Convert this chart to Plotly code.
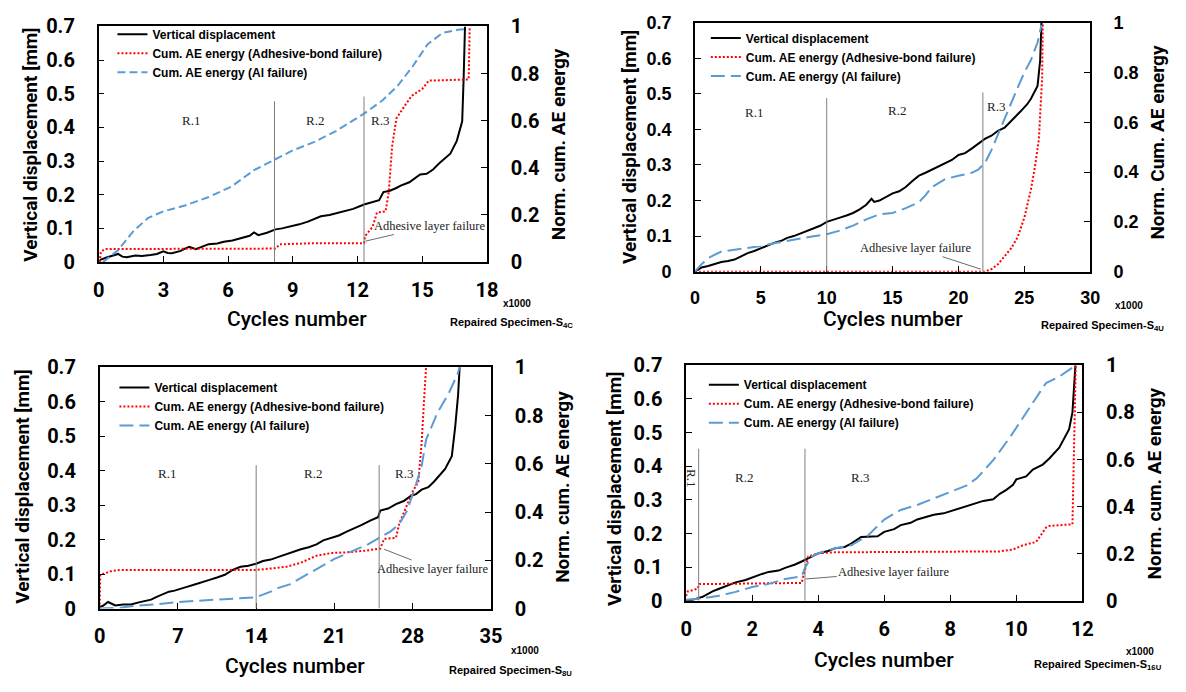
import plotly.graph_objects as go

W, H = 1186, 692

# ---------------- data (cycles in thousands) ----------------
# Specimen S4C
s4c_disp_x = [0, 0.1, 0.4, 0.9, 1.1, 1.3, 1.7, 2.0, 2.4, 2.7, 3.0, 3.2, 3.4, 3.8, 4.0, 4.2, 4.5, 4.8, 5.1, 5.5,
              5.8, 6.2, 6.6, 7.0, 7.2, 7.4, 7.8, 8.2, 8.5, 8.9, 9.3, 9.7, 10.0, 10.3, 10.7, 11.0, 11.4, 11.8,
              12.3, 12.7, 13.0, 13.2, 13.5, 13.8, 14.0, 14.4, 14.9, 15.2, 15.5, 15.8, 16.3, 16.6, 16.85,
              16.92, 16.98]
s4c_disp_y = [0.0, 0.007, 0.014, 0.024, 0.016, 0.014, 0.019, 0.018, 0.021, 0.024, 0.032, 0.027, 0.026, 0.033,
              0.04, 0.045, 0.038, 0.046, 0.053, 0.055, 0.06, 0.064, 0.07, 0.078, 0.088, 0.08, 0.087, 0.097,
              0.1, 0.105, 0.112, 0.12, 0.128, 0.136, 0.14, 0.145, 0.15, 0.158, 0.171, 0.178, 0.184, 0.208,
              0.212, 0.22, 0.227, 0.237, 0.26, 0.262, 0.275, 0.294, 0.322, 0.36, 0.418, 0.552, 0.70]
s4c_adh_x = [0.05, 0.1, 0.3, 8.2, 8.4, 10.0, 12.3, 12.35, 12.7, 12.9, 13.3, 13.45, 13.6, 13.8, 14.2, 14.5,
             15.0, 15.3, 17.15, 17.2]
s4c_adh_y = [0.0, 0.044, 0.055, 0.057, 0.075, 0.08, 0.08, 0.11, 0.15, 0.21, 0.215, 0.3, 0.49, 0.61, 0.665,
             0.705, 0.735, 0.77, 0.775, 1.0]
s4c_al_x = [0.2, 0.5, 0.9, 1.6, 2.3, 3.0, 4.0, 5.1, 6.15, 7.2, 8.2, 9.0, 10.0, 11.0, 12.3, 13.15, 13.85,
            14.55, 15.25, 15.95, 16.65, 17.1]
s4c_al_y = [0.0, 0.023, 0.05, 0.13, 0.188, 0.215, 0.24, 0.276, 0.32, 0.39, 0.436, 0.474, 0.51, 0.556, 0.63,
            0.686, 0.747, 0.83, 0.925, 0.973, 0.986, 0.99]
s4c_bounds = [8.15, 12.3]
s4c_bound_tops = [0.478, 0.492]
s4c_regions = ["R.1", "R.2", "R.3"]
s4c_region_x = [4.28, 10.03, 13.05]
s4c_region_y = [0.42, 0.42, 0.42]
s4c_fail_text = (15.38, 0.107)
s4c_fail_point = (12.36, 0.062)

# Specimen S4U
s4u_disp_x = [0, 0.3, 0.5, 1, 1.5, 2, 2.5, 3, 3.5, 4, 4.5, 5, 5.5, 6, 6.5, 7, 7.5, 8, 8.5, 9, 9.5, 10, 10.5,
              11, 11.5, 12, 12.5, 13, 13.4, 13.6, 14, 14.5, 15, 15.5, 16, 16.5, 17, 17.5, 18, 18.5, 19, 19.5,
              20, 20.5, 21, 21.5, 22, 22.5, 23, 23.5, 24, 24.7, 25.2, 25.5, 26.0, 26.2, 26.3]
s4u_disp_y = [0, 0.008, 0.012, 0.016, 0.022, 0.027, 0.03, 0.034, 0.043, 0.052, 0.058, 0.066, 0.072, 0.081,
              0.086, 0.095, 0.1, 0.107, 0.115, 0.123, 0.129, 0.14, 0.145, 0.152, 0.158, 0.165, 0.175, 0.188,
              0.205, 0.196, 0.2, 0.21, 0.22, 0.226, 0.238, 0.255, 0.27, 0.278, 0.287, 0.295, 0.305, 0.314,
              0.328, 0.333, 0.346, 0.36, 0.373, 0.382, 0.396, 0.405, 0.423, 0.45, 0.47, 0.486, 0.522, 0.594,
              0.70]
s4u_adh_x = [0, 22.0, 22.5, 23, 23.5, 24, 24.5, 25, 25.5, 25.8, 26.1, 26.35, 26.4]
s4u_adh_y = [0, 0, 0.01, 0.03, 0.062, 0.094, 0.14, 0.217, 0.33, 0.42, 0.53, 0.78, 1.0]
s4u_al_x = [0, 0.5, 1, 2, 3, 4, 5, 6, 7, 8, 9, 10, 11, 12, 13, 14, 15, 16, 17, 17.5, 18, 19, 20, 21, 21.5,
            22, 22.5, 23, 23.5, 24, 24.5, 25, 25.5, 26, 26.3]
s4u_al_y = [0, 0.03, 0.055, 0.081, 0.088, 0.094, 0.103, 0.114, 0.125, 0.133, 0.142, 0.15, 0.165, 0.185,
            0.21, 0.23, 0.236, 0.255, 0.279, 0.307, 0.34, 0.372, 0.385, 0.397, 0.41, 0.436, 0.488, 0.552,
            0.617, 0.68, 0.74, 0.8, 0.85, 0.92, 0.99]
s4u_bounds = [10.0, 21.85]
s4u_bound_tops = [0.488, 0.504]
s4u_regions = ["R.1", "R.2", "R.3"]
s4u_region_x = [4.5, 15.3, 22.85]
s4u_region_y = [0.447, 0.452, 0.463]
s4u_fail_text = (16.8, 0.066)
s4u_fail_point = (21.7, 0.007)

# Specimen S8U
s8u_disp_x = [0, 0.3, 0.75, 1.4, 2.1, 2.8, 3.5, 4.1, 4.6, 5.1, 5.6, 6.2, 6.7, 7.2, 7.8, 8.5, 9.2, 9.9, 10.5,
              11.2, 11.9, 12.6, 13.3, 14.0, 14.6, 15.3, 16.0, 16.7, 17.3, 18.0, 18.7, 19.4, 20.0, 20.7, 21.4,
              22.1, 22.8, 23.4, 24.2, 24.9, 25.1, 25.8, 26.5, 27.2, 27.8, 28.3, 28.8, 29.4, 29.9, 30.4, 30.9,
              31.5, 31.8, 32.06, 32.2]
s8u_disp_y = [0.005, 0.008, 0.019, 0.009, 0.012, 0.012, 0.018, 0.023, 0.026, 0.034, 0.04, 0.049, 0.052, 0.056,
              0.063, 0.07, 0.076, 0.084, 0.09, 0.098, 0.112, 0.121, 0.124, 0.13, 0.138, 0.142, 0.15, 0.158,
              0.163, 0.172, 0.178, 0.186, 0.198, 0.205, 0.212, 0.223, 0.232, 0.242, 0.255, 0.265, 0.284,
              0.29, 0.303, 0.312, 0.326, 0.332, 0.345, 0.352, 0.368, 0.385, 0.405, 0.442, 0.526, 0.619, 0.70]
s8u_adh_x = [0, 0.05, 1.1, 1.8, 5, 10, 14, 15.3, 16.7, 18, 19.4, 20.7, 22.1, 23.8, 25.1, 25.45, 26.5, 26.8,
             27.5, 28.0, 28.5, 28.8, 29.0, 29.2]
s8u_adh_y = [0, 0.14, 0.156, 0.16, 0.16, 0.16, 0.16, 0.166, 0.173, 0.19, 0.219, 0.23, 0.233, 0.24, 0.249,
             0.289, 0.293, 0.352, 0.426, 0.485, 0.525, 0.685, 0.85, 1.0]
s8u_al_x = [0, 2, 3, 5, 7, 10, 12, 14, 15.3, 16, 17, 18, 19, 20, 21, 22, 23, 24, 25, 26, 26.8, 27.5, 28.2,
            28.8, 29.2, 30.2, 31.2, 32.0, 32.2]
s8u_al_y = [0, 0.004, 0.011, 0.017, 0.027, 0.036, 0.04, 0.047, 0.07, 0.086, 0.1, 0.126, 0.153, 0.18, 0.206,
            0.226, 0.246, 0.266, 0.293, 0.319, 0.35, 0.406, 0.5, 0.59, 0.7, 0.81, 0.89, 0.97, 1.0]
s8u_bounds = [14.0, 25.0]
s8u_bound_tops = [0.416, 0.416]
s8u_regions = ["R.1", "R.2", "R.3"]
s8u_region_x = [6.0, 19.1, 27.25]
s8u_region_y = [0.391, 0.391, 0.391]
s8u_fail_text = (29.86, 0.116)
s8u_fail_point = (25.45, 0.172)

# Specimen S16U
s16u_disp_x = [0, 0.2, 0.5, 0.8, 1.0, 1.3, 1.5, 1.8, 2.0, 2.3, 2.5, 2.8, 3.0, 3.3, 3.5, 3.8, 4.0, 4.3, 4.5,
               4.8, 5.0, 5.3, 5.5, 5.8, 6.0, 6.3, 6.5, 6.8, 7.0, 7.3, 7.5, 7.8, 8.0, 8.3, 8.5, 8.8, 9.0, 9.3,
               9.5, 9.7, 9.9, 10.0, 10.3, 10.5, 10.8, 11.0, 11.3, 11.6, 11.7, 11.79]
s16u_disp_y = [0, 0.003, 0.012, 0.028, 0.036, 0.048, 0.055, 0.062, 0.07, 0.08, 0.086, 0.09, 0.098, 0.108,
               0.117, 0.13, 0.141, 0.148, 0.156, 0.16, 0.17, 0.19, 0.19, 0.192, 0.205, 0.213, 0.225, 0.232,
               0.242, 0.25, 0.256, 0.26, 0.266, 0.274, 0.28, 0.29, 0.297, 0.302, 0.318, 0.33, 0.345, 0.361,
               0.37, 0.39, 0.405, 0.423, 0.455, 0.51, 0.56, 0.70]
s16u_adh_x = [0, 0.05, 0.2, 0.35, 0.4, 1.0, 3.5, 3.6, 3.7, 4.0, 4.5, 9.5, 9.9, 10.2, 10.6, 10.9, 11.0,
              11.7, 11.75, 11.8]
s16u_adh_y = [0.02, 0.04, 0.045, 0.052, 0.072, 0.072, 0.076, 0.134, 0.188, 0.202, 0.206, 0.21, 0.218,
              0.236, 0.25, 0.311, 0.318, 0.325, 0.6, 1.0]
s16u_al_x = [0, 0.5, 1, 1.5, 2, 2.5, 3, 3.5, 3.6, 3.8, 4.0, 4.5, 5.0, 5.5, 6.0, 6.5, 7.0, 7.5, 8.0, 8.5,
             8.8, 9.3, 9.8, 10.3, 10.9, 11.3, 11.8]
s16u_al_y = [0.005, 0.011, 0.022, 0.038, 0.059, 0.072, 0.093, 0.104, 0.14, 0.188, 0.202, 0.222, 0.236,
             0.277, 0.345, 0.386, 0.407, 0.434, 0.461, 0.49, 0.52, 0.597, 0.693, 0.8, 0.925, 0.952, 1.0]
s16u_bounds = [0.38, 3.6]
s16u_bound_tops = [0.452, 0.452]
s16u_regions = ["R.1", "R.2", "R.3"]
s16u_region_x = [0.17, 1.75, 5.26]
s16u_region_y = [0.366, 0.366, 0.366]
s16u_fail_text = (6.3, 0.086)
s16u_fail_point = (3.62, 0.065)

disp_range = [0, 0.7]
energy_range = [0, 1]

series_names = ["Vertical displacement", "Cum. AE energy (Adhesive-bond failure)", "Cum. AE energy (Al failure)"]

# ---------------- layout helpers ----------------
def fx(p):
    return p / W


def fy(p):
    return 1 - p / H


panels = [
    dict(spec="4C", disp=(s4c_disp_x, s4c_disp_y), adh=(s4c_adh_x, s4c_adh_y), al=(s4c_al_x, s4c_al_y),
         xrange=[0, 18], dtick=3, box=(94, 488, 15, 259), bounds=s4c_bounds, tops=s4c_bound_tops,
         regions=(s4c_regions, s4c_region_x, s4c_region_y), fail=(s4c_fail_text, s4c_fail_point),
         right_title="Norm. cum. AE energy", tickfont="Roboto", tfsize=20, aldash="8px,4px",
         ltitle=(25, 138), rtitle=(560, 137), xtitle=(295, 318), x1000=(518, 302), spec_lbl=(513, 322),
         legend=(108, 8), r1rot=False),
    dict(spec="4U", disp=(s4u_disp_x, s4u_disp_y), adh=(s4u_adh_x, s4u_adh_y), al=(s4u_al_x, s4u_al_y),
         xrange=[0, 30], dtick=5, box=(699, 1100, 11, 269), bounds=s4u_bounds, tops=s4u_bound_tops,
         regions=(s4u_regions, s4u_region_x, s4u_region_y), fail=(s4u_fail_text, s4u_fail_point),
         right_title="Norm. Cum. AE energy", tickfont="Liberation Sans", tfsize=18, aldash="14px,6px",
         ltitle=(632, 140), rtitle=(1168, 135), xtitle=(900, 318), x1000=(1139, 304), spec_lbl=(1112, 325),
         legend=(710, 12), r1rot=False),
    dict(spec="8U", disp=(s8u_disp_x, s8u_disp_y), adh=(s8u_adh_x, s8u_adh_y), al=(s8u_al_x, s8u_al_y),
         xrange=[0, 35], dtick=7, box=(95, 492, 368, 618), bounds=s8u_bounds, tops=s8u_bound_tops,
         regions=(s8u_regions, s8u_region_x, s8u_region_y), fail=(s8u_fail_text, s8u_fail_point),
         right_title="Norm. cum. AE energy", tickfont="Roboto", tfsize=20, aldash="14px,6px",
         ltitle=(17, 492), rtitle=(565, 492), xtitle=(293, 678), x1000=(527, 661), spec_lbl=(512, 683),
         legend=(110, 374), r1rot=False),
    dict(spec="16U", disp=(s16u_disp_x, s16u_disp_y), adh=(s16u_adh_x, s16u_adh_y), al=(s16u_al_x, s16u_al_y),
         xrange=[0, 12], dtick=2, box=(690, 1092, 366, 610), bounds=s16u_bounds, tops=s16u_bound_tops,
         regions=(s16u_regions, s16u_region_x, s16u_region_y), fail=(s16u_fail_text, s16u_fail_point),
         right_title="Norm. cum. AE energy", tickfont="Roboto", tfsize=20, aldash="14px,6px",
         ltitle=(618, 494), rtitle=(1165, 488), xtitle=(891, 671), x1000=(1150, 662), spec_lbl=(1108, 676),
         legend=(708, 371), r1rot=True),
]

fig = go.Figure()
layout = dict(width=W, height=H, margin=dict(l=0, r=0, t=0, b=0), paper_bgcolor="white",
              plot_bgcolor="white", font=dict(family="Roboto", color="black"), showlegend=True)
annotations = []
shapes = []


def paper_text(x, y, text, font, angle=0):
    return dict(x=fx(x), y=fy(y), xref="paper", yref="paper", xanchor="center", yanchor="middle",
                text=text, showarrow=False, textangle=angle, font=font)


for i, p in enumerate(panels):
    n = i + 1
    xa = "x" if n == 1 else f"x{n}"
    yl_n, yr_n = 2 * n - 1, 2 * n
    yl = "y" if yl_n == 1 else f"y{yl_n}"
    yr = f"y{yr_n}"
    leg = "legend" if n == 1 else f"legend{n}"
    l, r, t, b = p["box"]

    fig.add_trace(go.Scatter(x=p["disp"][0], y=p["disp"][1], xaxis=xa, yaxis=yl, mode="lines",
                             line=dict(color="black", width=2), name=series_names[0], legend=leg))
    fig.add_trace(go.Scatter(x=p["adh"][0], y=p["adh"][1], xaxis=xa, yaxis=yr, mode="lines",
                             line=dict(color="#ff0000", width=2, dash="2px,2px"), name=series_names[1],
                             legend=leg))
    fig.add_trace(go.Scatter(x=p["al"][0], y=p["al"][1], xaxis=xa, yaxis=yr, mode="lines",
                             line=dict(color="#5b9bd5", width=2, dash=p["aldash"]), name=series_names[2],
                             legend=leg))

    tickfont = dict(family=p["tickfont"], size=p["tfsize"], color="black", weight=700)
    common = dict(showline=True, linecolor="black", linewidth=1.5, ticks="inside", ticklen=6,
                  tickwidth=1.2, tickcolor="black", showgrid=False, zeroline=False, tickfont=tickfont)
    xkey = "xaxis" if n == 1 else f"xaxis{n}"
    ylkey = "yaxis" if yl_n == 1 else f"yaxis{yl_n}"
    yrkey = f"yaxis{yr_n}"
    layout[xkey] = dict(domain=[fx(l), fx(r)], range=p["xrange"], dtick=p["dtick"], tick0=0, anchor=yl,
                        mirror=True, ticklabelstandoff=9, **common)
    layout[ylkey] = dict(domain=[fy(b), fy(t)], range=disp_range, dtick=0.1, tick0=0, anchor=xa,
                         mirror=True, ticklabelstandoff=18, **common)
    layout[yrkey] = dict(range=energy_range, dtick=0.2, tick0=0, anchor=xa, overlaying=yl, side="right",
                         ticklabelstandoff=18, **common)
    layout[leg] = dict(x=fx(p["legend"][0]), y=fy(p["legend"][1]), xanchor="left", yanchor="top",
                       bgcolor="rgba(0,0,0,0)", borderwidth=0,
                       font=dict(family="Liberation Sans", size=12, color="black", weight=700))

    # region boundaries
    for bx, bt in zip(p["bounds"], p["tops"]):
        shapes.append(dict(type="line", xref=xa, yref=yl, x0=bx, x1=bx, y0=0, y1=bt,
                           line=dict(color="#7f7f7f", width=1)))
    # region labels
    names, rx, ry = p["regions"]
    for k, (nm, xx, yy) in enumerate(zip(names, rx, ry)):
        rot = 90 if (p["r1rot"] and k == 0) else 0
        annotations.append(dict(x=xx, y=yy, xref=xa, yref=yl, text=nm, showarrow=False, textangle=rot,
                                xanchor="center", yanchor="middle",
                                font=dict(family="Liberation Serif", size=13, color="#222")))
    # adhesive layer failure
    (tx, ty), (hx, hy) = p["fail"]
    annotations.append(dict(x=hx, y=hy, xref=xa, yref=yl, ax=tx, ay=ty, axref=xa, ayref=yl,
                            text="Adhesive layer failure", showarrow=True, arrowhead=0, arrowwidth=0.8,
                            arrowcolor="#444", font=dict(family="Liberation Serif", size=12.5, color="#222")))
    # titles
    annotations.append(paper_text(*p["ltitle"], "Vertical displacement [mm]",
                                  dict(family="Roboto", size=19, color="black", weight=700), -90))
    annotations.append(paper_text(*p["rtitle"], p["right_title"],
                                  dict(family="Roboto", size=19, color="black", weight=700), -90))
    annotations.append(paper_text(*p["xtitle"], "Cycles number",
                                  dict(family="Roboto", size=21, color="black", weight=500)))
    annotations.append(paper_text(*p["x1000"], "x1000",
                                  dict(family="Liberation Sans", size=10, color="black", weight=700)))
    annotations.append(paper_text(*p["spec_lbl"], f"Repaired Specimen-S<sub>{p['spec']}</sub>",
                                  dict(family="Liberation Sans", size=11, color="black", weight=700)))

layout["annotations"] = annotations
layout["shapes"] = shapes
fig.update_layout(**layout)
fig.write_html("out.html")
